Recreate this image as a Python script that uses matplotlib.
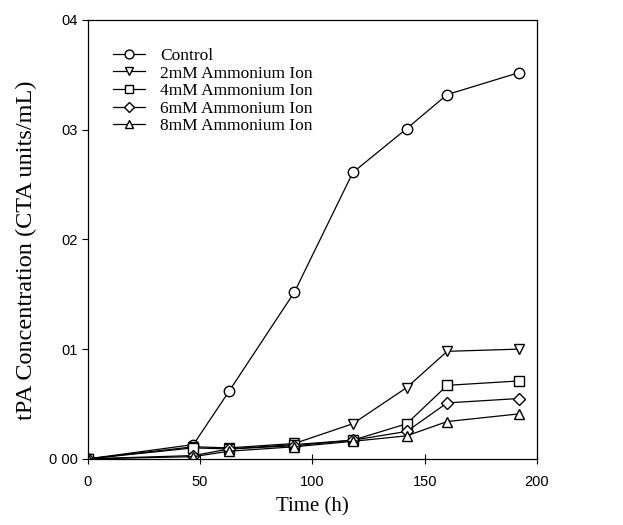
import matplotlib.pyplot as plt

time_h = [0, 47, 63, 92, 118, 142, 160, 192]
control = [0.0, 0.013, 0.062, 0.152, 0.261, 0.301, 0.332, 0.352]
amm_2mm = [0.0, 0.011, 0.010, 0.014, 0.032, 0.065, 0.098, 0.100]
amm_4mm = [0.0, 0.010, 0.009, 0.013, 0.017, 0.032, 0.067, 0.071]
amm_6mm = [0.0, 0.003, 0.009, 0.012, 0.017, 0.025, 0.051, 0.055]
amm_8mm = [0.0, 0.002, 0.007, 0.011, 0.016, 0.021, 0.034, 0.041]

labels = ['Control', '2mM Ammonium Ion', '4mM Ammonium Ion',
          '6mM Ammonium Ion', '8mM Ammonium Ion']
series = [control, amm_2mm, amm_4mm, amm_6mm, amm_8mm]
markers = ['o', 'v', 's', 'D', '^']
msizes = [7.5, 7.5, 6.5, 6.5, 7.5]

ytick_vals = [0.0, 0.1, 0.2, 0.3, 0.4]
ytick_labels = ['0 00', '01', '02', '03', '04']
xtick_vals = [0, 50, 100, 150, 200]

fig = plt.figure(figsize=(6.23, 5.25), dpi=100)
ax = fig.add_axes([0.141, 0.126, 0.721, 0.836])

for ys, lab, m, ms in zip(series, labels, markers, msizes):
    ax.plot(time_h, ys, color='black', lw=0.9, marker=m, ms=ms,
            mfc='white', mec='black', mew=1.0, label=lab)

ax.set_xlim(0, 200)
ax.set_ylim(0, 0.4)
ax.set_xticks(xtick_vals)
ax.set_xticklabels([str(v) for v in xtick_vals], family='Liberation Sans', fontsize=10.5)
ax.set_yticks(ytick_vals)
ax.set_yticklabels(ytick_labels, family='Liberation Sans', fontsize=10.5)
ax.tick_params(axis='x', direction='inout', length=7, width=0.8, pad=8)
ax.tick_params(axis='y', direction='out', length=4, width=0.8)
for s in ax.spines.values():
    s.set_linewidth(0.9)

ax.set_xlabel('Time (h)', family='Liberation Serif', fontsize=15, labelpad=6)
ax.set_ylabel('tPA Concentration (CTA units/mL)', family='Liberation Serif',
              fontsize=17.5)
ax.yaxis.set_label_coords(-0.113, 0.476)

leg = ax.legend(loc='upper left', bbox_to_anchor=(0.022, 0.972), frameon=False,
                prop={'family': 'Liberation Serif', 'size': 12.5},
                handlelength=1.8, handletextpad=0.9, labelspacing=0.08,
                markerscale=0.85)

fig.savefig('out.png', dpi=100)
